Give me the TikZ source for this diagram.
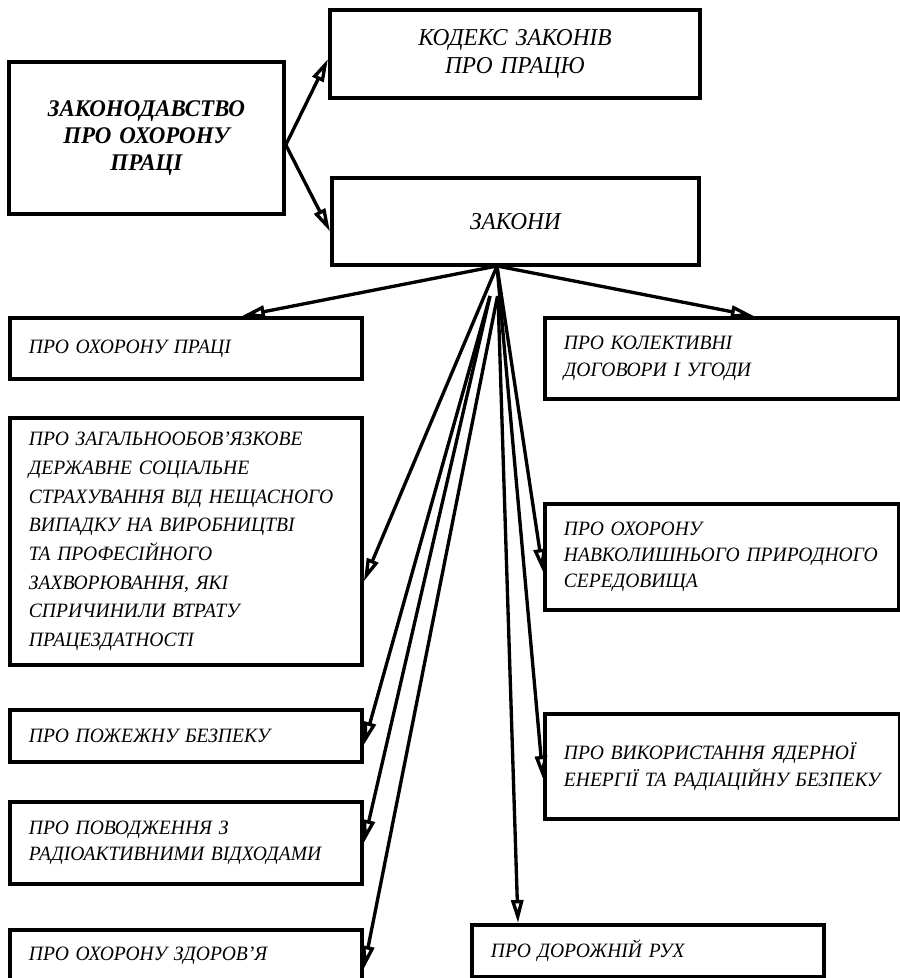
\documentclass[tikz,border=0pt]{standalone}
\usepackage{fontspec}
\setmainfont{Liberation Serif}[FakeStretch=0.96]
\usetikzlibrary{arrows.meta, calc, positioning}

\tikzset{
  lawbox/.style={draw, line width=2.2pt, anchor=north west, align=left, inner xsep=0.38cm, inner ysep=0pt,
    font=\itshape\fontsize{11.6}{15}\selectfont},
  link/.style={line width=1.9pt, -{Triangle[open,length=0.46cm,width=0.24cm]}}
}

\begin{document}
\begin{tikzpicture}[x=0.02cm, y=-0.02cm]
\useasboundingbox (0,0) rectangle (900,978);

% Top of the scheme
\node[lawbox, align=center, text width=4.74cm, minimum height=3.04cm,
  font=\bfseries\itshape\fontsize{13.6}{15.5}\selectfont] (zakonod) at (7,60) {ЗАКОНОДАВСТВО\\ПРО ОХОРОНУ\\ПРАЦІ};
\node[lawbox, align=center, text width=6.64cm, minimum height=1.76cm,
  font=\itshape\fontsize{13.8}{15.5}\selectfont] (kodeks) at (328,8) {КОДЕКС ЗАКОНІВ\\ПРО ПРАЦЮ};
\node[lawbox, align=center, text width=6.58cm, minimum height=1.74cm,
  font=\itshape\fontsize{13.8}{15.5}\selectfont] (zakony) at (330,176) {ЗАКОНИ};

% Left column
\node[lawbox, text width=6.28cm, minimum height=1.22cm] (pratsia) at (8,316) {ПРО ОХОРОНУ ПРАЦІ};
\node[lawbox, text width=6.28cm, minimum height=4.94cm, font=\itshape\fontsize{11.6}{16.3}\selectfont] (strakh) at (8,416)
  {ПРО ЗАГАЛЬНООБОВ'ЯЗКОВЕ\\ДЕРЖАВНЕ СОЦІАЛЬНЕ\\СТРАХУВАННЯ ВІД НЕЩАСНОГО\\ВИПАДКУ НА ВИРОБНИЦТВІ\\ТА ПРОФЕСІЙНОГО\\ЗАХВОРЮВАННЯ, ЯКІ\\СПРИЧИНИЛИ ВТРАТУ\\ПРАЦЕЗДАТНОСТІ};
\node[lawbox, text width=6.28cm, minimum height=1.04cm] (pozhezh) at (8,708) {ПРО ПОЖЕЖНУ БЕЗПЕКУ};
\node[lawbox, text width=6.28cm, minimum height=1.64cm] (vidkhody) at (8,800) {ПРО ПОВОДЖЕННЯ З\\РАДІОАКТИВНИМИ ВІДХОДАМИ};
\node[lawbox, text width=6.28cm, minimum height=1.04cm] (zdorov) at (8,928) {ПРО ОХОРОНУ ЗДОРОВ'Я};

% Right column
\node[lawbox, text width=6.32cm, minimum height=1.62cm] (kolektyv) at (543,316) {ПРО КОЛЕКТИВНІ\\ДОГОВОРИ І УГОДИ};
\node[lawbox, text width=6.32cm, minimum height=2.12cm] (dovkillia) at (543,502)
  {ПРО ОХОРОНУ\\\mbox{НАВКОЛИШНЬОГО ПРИРОДНОГО}\\СЕРЕДОВИЩА};
\node[lawbox, text width=6.34cm, minimum height=2.1cm] (yadern) at (543,712)
  {\mbox{ПРО ВИКОРИСТАННЯ ЯДЕРНОЇ}\\\mbox{ЕНЕРГІЇ ТА РАДІАЦІЙНУ БЕЗПЕКУ}};
\node[lawbox, text width=6.28cm, minimum height=1.04cm] (rukh) at (470,923) {ПРО ДОРОЖНІЙ РУХ};

% Arrows from the head
\draw[link] ([yshift=-0.14cm]zakonod.east) -- ([yshift=-0.1cm]kodeks.west);
\draw[link] ([yshift=-0.14cm]zakonod.east) -- ([yshift=-0.2cm]zakony.west);

% Fan of laws
\coordinate (hub) at (497,266);
\coordinate (hubl) at (490,296);
\draw[link] (hub) -- ([xshift=1.12cm]pratsia.north);
\draw[link] (hub) -- ([xshift=0.64cm]kolektyv.north);
\draw[link] (hub) -- ([yshift=-0.8cm]strakh.east);
\draw[link] (hubl) -- ([yshift=-0.18cm]pozhezh.east);
\draw[link] (hubl) -- (vidkhody.east);
\draw[link] ([xshift=0.15cm]hubl) -- ([yshift=-0.26cm]zdorov.east);
\draw[link] (hub) -- ([yshift=-0.3cm]dovkillia.west);
\draw[link] (hub) -- ([yshift=-0.25cm]yadern.west);
\draw[link] ([xshift=0.16cm]hubl) -- ([xshift=0.96cm]rukh.north west);
\end{tikzpicture}
\end{document}
